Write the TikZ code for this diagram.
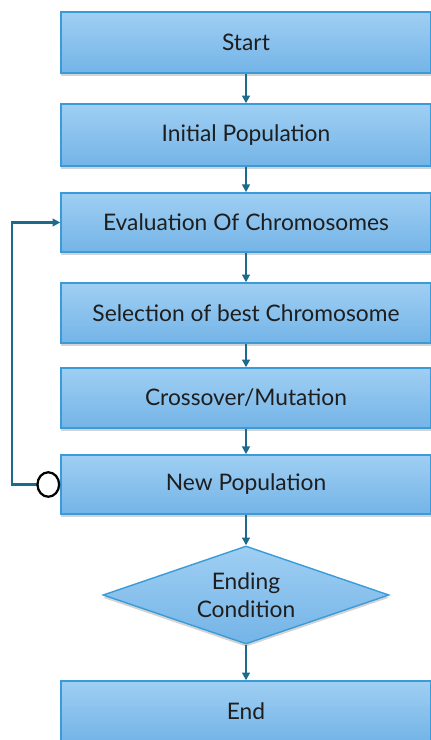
\documentclass[tikz,border=0pt]{standalone}
\usepackage{fontspec}
\setmainfont{Lato}
\usepackage{tikz}
\usetikzlibrary{arrows.meta, shapes.geometric, shadows}
\definecolor{boxtop}{HTML}{9FCFF3}
\definecolor{boxbot}{HTML}{74B4E7}
\definecolor{boxline}{HTML}{3A9BD8}
\definecolor{flow}{HTML}{1D6A8C}
\definecolor{ink}{HTML}{1E1E1E}
\tikzset{
  stepbox/.style={
    draw=boxline,
    line width=1pt,
    top color=boxtop,
    bottom color=boxbot,
    minimum width=9.25cm,
    minimum height=1.5cm,
    inner sep=0pt,
    font=\fontsize{16.2}{19.5}\selectfont,
    text=ink,
    align=center,
    drop shadow={shadow xshift=0pt, shadow yshift=-2pt, opacity=0.35}
  },
  decision/.style={
    stepbox,
    diamond,
    aspect=2.9,
    minimum width=7.15cm,
    minimum height=2.45cm
  },
  flow arrow/.style={
    -{Triangle[length=5.5pt, width=5.5pt]},
    line width=1.6pt,
    color=flow
  },
  loop tail/.style={
    {Circle[open, length=17pt, width=19pt, color=black, fill=white, line width=1.6pt]}-{Triangle[length=5.5pt, width=5.5pt]},
    line width=1.6pt,
    color=flow
  }
}

\begin{document}
\begin{tikzpicture}[x=0.025cm, y=-0.025cm]
  % Frame
  \useasboundingbox (0,0) rectangle (430,740);

  % Steps
  \node[stepbox, minimum height=1.52cm] (start) at (246, 42.5) {Start};
  \node[stepbox, minimum height=1.55cm] (init) at (246, 135) {Initial Population};
  \node[stepbox, minimum height=1.48cm] (eval) at (246, 222.5) {Evaluation Of Chromosomes};
  \node[stepbox] (select) at (246, 313) {Selection of best Chromosome};
  \node[stepbox] (cross) at (246, 398) {Crossover/Mutation};
  \node[stepbox, minimum height=1.48cm] (newpop) at (246, 484.5) {New Population};
  \node[decision] (cond) at (246, 595) {Ending\\Condition};
  \node[stepbox] (end) at (246, 711) {End};

  % Main flow
  \draw[flow arrow] (start) -- (init);
  \draw[flow arrow] (init) -- (eval);
  \draw[flow arrow] (eval) -- (select);
  \draw[flow arrow] (select) -- (cross);
  \draw[flow arrow] (cross) -- (newpop);
  \draw[flow arrow] (newpop) -- (cond);
  \draw[flow arrow] (cond) -- (end);

  % Loop back
  \draw[loop tail] (newpop.west) -- ++(-48, 0) |- (eval.west);
\end{tikzpicture}
\end{document}
